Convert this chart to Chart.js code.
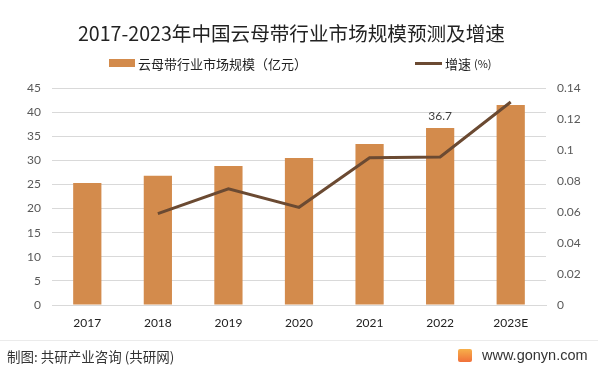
<!DOCTYPE html>
<html>
<head>
<meta charset="utf-8">
<script src="https://cdn.jsdelivr.net/npm/chart.js@4"></script>
<style>
  body { margin: 0; background: #fff; }
  #wrap { position: relative; width: 598px; height: 372px; font-family: "Noto Sans CJK SC", sans-serif; }
  #title { position: absolute; top: 18px; left: 78px; white-space: nowrap; font-size: 19.6px; line-height: 30px; color: #222; }
  .leg { position: absolute; top: 53px; height: 20px; font-size: 13px; color: #222; display: flex; align-items: center; white-space: nowrap; }
  .leg i { display: inline-block; margin-right: 3px; }
  #footer-line { position: absolute; top: 340px; left: 0; width: 598px; height: 1px; background: #ebebeb; }
  #src { position: absolute; top: 346px; left: 7px; font-size: 13.5px; line-height: 20px; color: #333; }
  #site { position: absolute; top: 345px; left: 458px; height: 20px; font-size: 14.5px; color: #333; display: flex; align-items: center; font-family: "Liberation Sans", sans-serif; }
  #site b { display: inline-block; width: 14px; height: 13px; background: linear-gradient(#f7b04a, #f0703a); border-radius: 2px; margin-right: 10px; }
</style>
</head>
<body>
<div id="wrap">
  <canvas id="chart" width="598" height="372"></canvas>
  <div id="title">2017-2023年中国云母带行业市场规模预测及增速</div>
  <div class="leg" style="left:109px"><i style="width:26px;height:8px;background:#D38B4C"></i>云母带行业市场规模（亿元）</div>
  <div class="leg" style="left:415px"><i style="width:27px;height:3px;background:#6B4A32"></i>增速 <span style="font-size:11px;margin-left:3px">(%)</span></div>
  <div id="footer-line"></div>
  <div id="src">制图: 共研产业咨询 (共研网)</div>
  <div id="site"><b></b>www.gonyn.com</div>
</div>
<script>
// Data
const years = ['2017', '2018', '2019', '2020', '2021', '2022', '2023E'];
const marketSize = [25.3, 26.8, 28.8, 30.5, 33.4, 36.7, 41.5];
const growthRate = [null, 0.059, 0.075, 0.063, 0.095, 0.0955, 0.131];
const showLabel = [false, false, false, false, false, true, false];
const leftTicks = [0, 5, 10, 15, 20, 25, 30, 35, 40, 45];
const rightTicks = [0, 0.02, 0.04, 0.06, 0.08, 0.1, 0.12, 0.14];

const tickFont = { family: 'Lato', size: 12 };

// draws the value above the chosen bars
const barLabels = {
  id: 'barLabels',
  afterDatasetsDraw(chart) {
    const ctx = chart.ctx;
    const meta = chart.getDatasetMeta(1);
    ctx.save();
    ctx.font = '12px Lato';
    ctx.fillStyle = '#404040';
    ctx.textAlign = 'center';
    ctx.textBaseline = 'bottom';
    meta.data.forEach((bar, i) => {
      if (showLabel[i]) ctx.fillText(marketSize[i], bar.x, bar.y - 6);
    });
    ctx.restore();
  }
};

new Chart(document.getElementById('chart'), {
  data: {
    labels: years,
    datasets: [
      {
        type: 'line',
        label: '增速 (%)',
        data: growthRate,
        yAxisID: 'y1',
        borderColor: '#6B4A32',
        borderWidth: 3,
        pointRadius: 0,
        tension: 0,
        order: 0
      },
      {
        type: 'bar',
        label: '云母带行业市场规模（亿元）',
        data: marketSize,
        yAxisID: 'y',
        backgroundColor: '#D38B4C',
        categoryPercentage: 1,
        barPercentage: 0.4,
        order: 1
      }
    ]
  },
  options: {
    responsive: false,
    animation: false,
    layout: { padding: { top: 88, left: 0, right: 0, bottom: 0 } },
    plugins: { legend: { display: false }, tooltip: { enabled: false } },
    scales: {
      x: {
        grid: { display: false, drawTicks: false },
        border: { color: '#d9d9d9' },
        ticks: { color: '#222', font: tickFont, padding: 11 },
        afterFit(scale) { scale.height = 67; }
      },
      y: {
        position: 'left',
        min: 0,
        max: 45,
        afterBuildTicks(scale) { scale.ticks = leftTicks.map(v => ({ value: v })); },
        grid: { color: '#d9d9d9', drawTicks: false },
        border: { display: false },
        ticks: { color: '#595959', font: tickFont, padding: 11 },
        afterFit(scale) { scale.width = 52; }
      },
      y1: {
        position: 'right',
        min: 0,
        max: 0.14,
        afterBuildTicks(scale) { scale.ticks = rightTicks.map(v => ({ value: v })); },
        grid: { display: false, drawTicks: false },
        border: { display: false },
        ticks: {
          color: '#595959',
          font: tickFont,
          padding: 11,
          callback: (v) => String(+v.toFixed(2))
        },
        afterFit(scale) { scale.width = 52; }
      }
    }
  },
  plugins: [barLabels]
});
</script>
</body>
</html>
